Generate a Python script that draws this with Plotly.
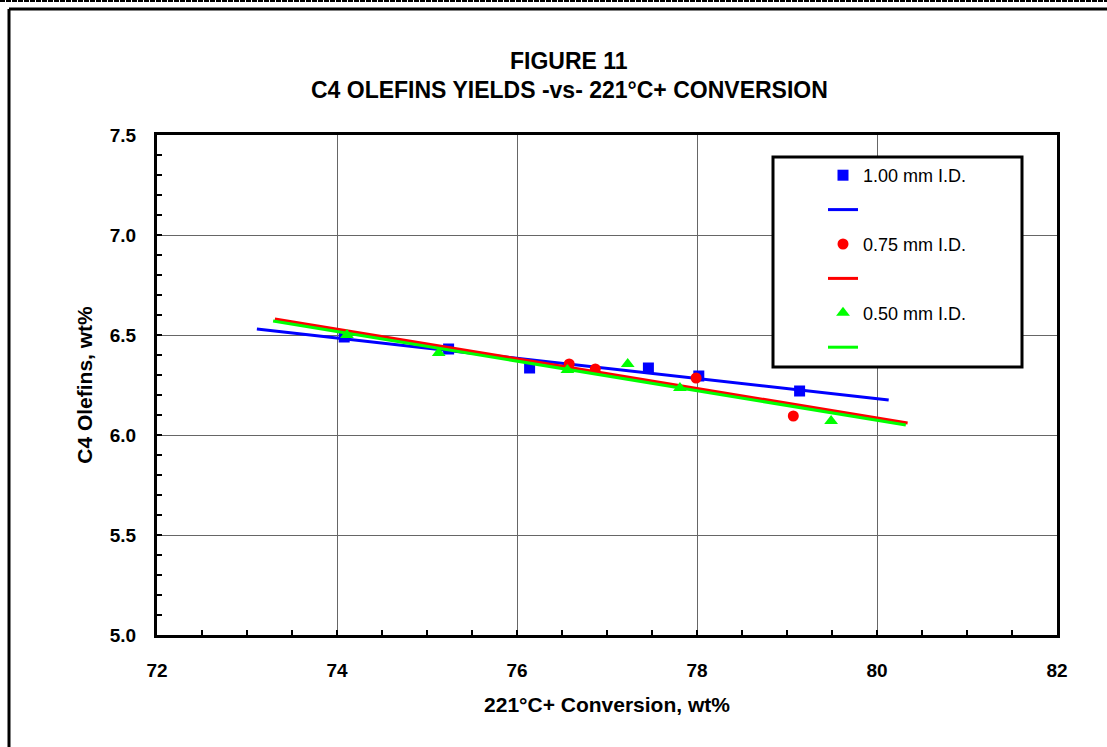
import plotly.graph_objects as go

# ---- data ----
x_100 = [74.08, 75.24, 76.14, 77.46, 78.02, 79.14]
y_100 = [6.49, 6.43, 6.335, 6.335, 6.295, 6.22]
fit_x_100 = [73.11, 80.13]
fit_y_100 = [6.53, 6.175]

x_075 = [76.58, 76.87, 77.99, 79.07]
y_075 = [6.355, 6.33, 6.285, 6.095]
fit_x_075 = [73.31, 80.34]
fit_y_075 = [6.58, 6.06]

x_050 = [74.11, 75.13, 76.56, 77.23, 77.81, 79.49]
y_050 = [6.50, 6.41, 6.325, 6.355, 6.235, 6.07]
fit_x_050 = [73.29, 80.32]
fit_y_050 = [6.57, 6.05]

labels = ["1.00 mm I.D.", "0.75 mm I.D.", "0.50 mm I.D."]
colors = ["#0000FF", "#FF0000", "#00FF00"]
symbols = ["square", "circle", "triangle-up"]

x_ticks = [72, 74, 76, 78, 80, 82]
y_ticks = [5.0, 5.5, 6.0, 6.5, 7.0, 7.5]

FONT = "Liberation Sans, Arial, sans-serif"

fig = go.Figure()
series = [(x_100, y_100, fit_x_100, fit_y_100),
          (x_075, y_075, fit_x_075, fit_y_075),
          (x_050, y_050, fit_x_050, fit_y_050)]
for i, (xs, ys, fx, fy) in enumerate(series):
    fig.add_trace(go.Scatter(x=xs, y=ys, mode="markers", name=labels[i],
                             legendgroup=f"m{i}",
                             marker=dict(symbol=symbols[i], color=colors[i],
                                         size=11 if i != 2 else 12, line=dict(width=0))))
    fig.add_trace(go.Scatter(x=fx, y=fy, mode="lines", name="\u00a0",
                             legendgroup=f"l{i}",
                             line=dict(color=colors[i], width=3)))

W, H = 1107, 747
L, R, T, B = 157, 50, 135, 112
pw, ph = W - L - R, H - T - B

def px(xp):
    return (xp - L) / pw

def py(yp):
    return (H - B - yp) / ph

shapes = [
    # page frame
    dict(type="line", xref="paper", yref="paper", x0=px(0), x1=px(W), y0=py(1), y1=py(1),
         line=dict(color="black", width=2, dash="5px,1px")),
    dict(type="line", xref="paper", yref="paper", x0=px(9), x1=px(W + 5), y0=py(9), y1=py(9),
         line=dict(color="black", width=3)),
    dict(type="line", xref="paper", yref="paper", x0=px(9), x1=px(9), y0=py(9), y1=py(H + 5),
         line=dict(color="black", width=3)),
    # legend box
    dict(type="rect", xref="paper", yref="paper", x0=px(773), x1=px(1022), y0=py(367), y1=py(157),
         line=dict(color="black", width=3), fillcolor="white", layer="above"),
]

annotations = [
    dict(text="<b>FIGURE 11</b>", xref="paper", yref="paper", x=px(569), y=py(61),
         xanchor="center", yanchor="middle", showarrow=False,
         font=dict(size=23, color="black", family=FONT)),
    dict(text="<b>C4 OLEFINS YIELDS -vs- 221°C+ CONVERSION</b>", xref="paper", yref="paper",
         x=px(569), y=py(90), xanchor="center", yanchor="middle", showarrow=False,
         font=dict(size=23, color="black", family=FONT)),
]

axis_common = dict(showline=True, linecolor="black", linewidth=3, mirror=True,
                   ticks="inside", ticklen=5, tickwidth=2, tickcolor="black",
                   showgrid=True, gridcolor="#666666", gridwidth=1, zeroline=False,
                   tickfont=dict(size=19, color="black", family=FONT))

fig.update_layout(
    width=W, height=H,
    margin=dict(l=L, r=R, t=T, b=B),
    paper_bgcolor="white", plot_bgcolor="white",
    font=dict(family=FONT, color="black"),
    showlegend=True,
    legend=dict(x=px(823), y=py(157), xanchor="left", yanchor="top",
                bgcolor="rgba(0,0,0,0)", borderwidth=0,
                traceorder="grouped", tracegroupgap=8,
                font=dict(size=18, family=FONT, color="black")),
    shapes=shapes,
    annotations=annotations,
)

fig.update_xaxes(range=[72, 82],
                 tickvals=x_ticks,
                 ticktext=[f"<b>{v}</b>" for v in x_ticks],
                 minor=dict(ticks="inside", dtick=0.5, tick0=72, ticklen=5, tickwidth=2,
                            tickcolor="black", showgrid=False),
                 title=dict(text="<b>221°C+ Conversion, wt%</b>", font=dict(size=21, family=FONT),
                            standoff=18),
                 ticklabelstandoff=16,
                 **axis_common)
fig.update_yaxes(range=[5.0, 7.5],
                 tickvals=y_ticks,
                 ticktext=[f"<b>{v:.1f}</b>" for v in y_ticks],
                 minor=dict(ticks="inside", dtick=0.1, tick0=5.0, ticklen=5, tickwidth=2,
                            tickcolor="black", showgrid=False),
                 title=dict(text="<b>C4 Olefins, wt%</b>", font=dict(size=21, family=FONT),
                            standoff=12),
                 ticklabelstandoff=14,
                 **axis_common)

fig.write_html("out.html")
